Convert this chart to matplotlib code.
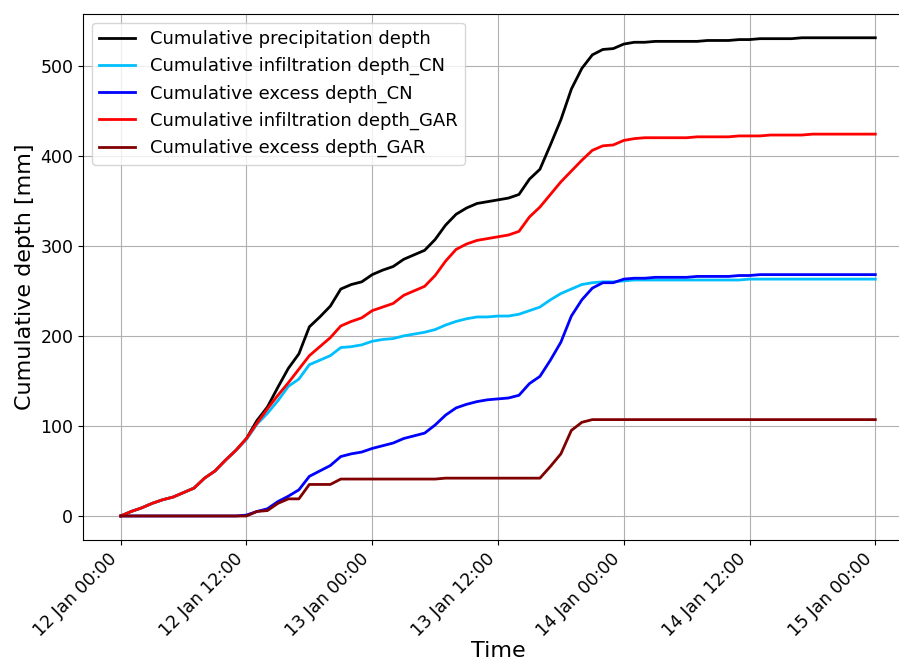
import numpy as np
import pandas as pd
import matplotlib
matplotlib.use("Agg")
import matplotlib.pyplot as plt
import matplotlib.dates as mdates

# hourly values, 12 Jan 00:00 -> 15 Jan 00:00
time = pd.date_range("2020-01-12 00:00", "2020-01-15 00:00", freq="h")

precip = [0, 5, 9, 14, 18, 21, 26, 31, 42, 50, 62, 73,
          86, 106, 121, 143, 164, 180, 210, 221, 233, 252, 257, 260,
          268, 273, 277, 285, 290, 295, 307, 323, 335, 342, 347, 349,
          351, 353, 357, 374, 385, 412, 440, 474, 497, 512, 518, 519,
          524, 526, 526, 527, 527, 527, 527, 527, 528, 528, 528, 529,
          529, 530, 530, 530, 530, 531, 531, 531, 531, 531, 531, 531, 531]

inf_cn = [0, 5, 9, 14, 18, 21, 26, 31, 42, 50, 62, 73,
          85, 102, 114, 128, 144, 152, 168, 173, 178, 187, 188, 190,
          194, 196, 197, 200, 202, 204, 207, 212, 216, 219, 221, 221,
          222, 222, 224, 228, 232, 240, 247, 252, 257, 259, 260, 260,
          261, 262, 262, 262, 262, 262, 262, 262, 262, 262, 262, 262,
          263, 263, 263, 263, 263, 263, 263, 263, 263, 263, 263, 263, 263]

exc_cn = [0, 0, 0, 0, 0, 0, 0, 0, 0, 0, 0, 0,
          1, 5, 8, 16, 22, 29, 44, 50, 56, 66, 69, 71,
          75, 78, 81, 86, 89, 92, 101, 112, 120, 124, 127, 129,
          130, 131, 134, 147, 155, 173, 193, 222, 240, 253, 259, 259,
          263, 264, 264, 265, 265, 265, 265, 266, 266, 266, 266, 267,
          267, 268, 268, 268, 268, 268, 268, 268, 268, 268, 268, 268, 268]

inf_gar = [0, 5, 9, 14, 18, 21, 26, 31, 42, 50, 62, 73,
           86, 103, 119, 134, 148, 163, 178, 188, 198, 211, 216, 220,
           228, 232, 236, 245, 250, 255, 267, 283, 296, 302, 306, 308,
           310, 312, 316, 332, 343, 357, 371, 383, 395, 406, 411, 412,
           417, 419, 420, 420, 420, 420, 420, 421, 421, 421, 421, 422,
           422, 422, 423, 423, 423, 423, 424, 424, 424, 424, 424, 424, 424]

exc_gar = [0, 0, 0, 0, 0, 0, 0, 0, 0, 0, 0, 0,
           0, 5, 6, 14, 19, 19, 35, 35, 35, 41, 41, 41,
           41, 41, 41, 41, 41, 41, 41, 42, 42, 42, 42, 42,
           42, 42, 42, 42, 42, 55, 69, 95, 104, 107, 107, 107,
           107, 107, 107, 107, 107, 107, 107, 107, 107, 107, 107, 107,
           107, 107, 107, 107, 107, 107, 107, 107, 107, 107, 107, 107, 107]

fig = plt.figure(figsize=(8.99, 6.6), dpi=100)
ax = fig.add_axes([0.0923, 0.182, 0.9233, 0.797])

ax.plot(time, precip, color="black", lw=2, label="Cumulative precipitation depth")
ax.plot(time, inf_cn, color="deepskyblue", lw=2, label="Cumulative infiltration depth_CN")
ax.plot(time, exc_cn, color="blue", lw=2, label="Cumulative excess depth_CN")
ax.plot(time, inf_gar, color="red", lw=2, label="Cumulative infiltration depth_GAR")
ax.plot(time, exc_gar, color="maroon", lw=2, label="Cumulative excess depth_GAR")

ax.xaxis.set_major_locator(mdates.HourLocator(byhour=[0, 12]))
ax.xaxis.set_major_formatter(mdates.DateFormatter("%d %b %H:%M"))
plt.setp(ax.get_xticklabels(), rotation=45, ha="right")
ax.tick_params(axis="both", labelsize=12.5)

ax.set_xlabel("Time", fontsize=16, labelpad=1)
ax.set_ylabel("Cumulative depth [mm]", fontsize=16)
ax.grid(True)
ax.legend(loc="upper left", fontsize=13)

fig.savefig("out.png", dpi=100)
